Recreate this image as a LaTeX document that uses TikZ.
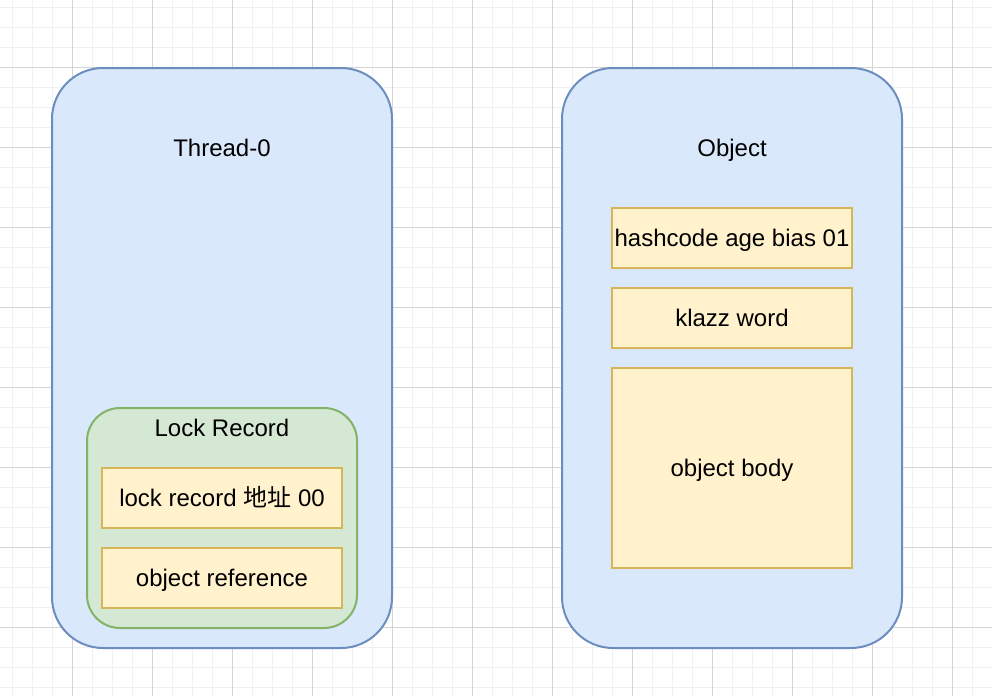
\documentclass[tikz,border=0pt]{standalone}
\usepackage{fontspec}
\setmainfont{Liberation Sans}
\newfontfamily\cjk{Noto Sans CJK SC}
\definecolor{blueFill}{HTML}{DAE8FC}
\definecolor{blueLine}{HTML}{6C8EBF}
\definecolor{greenFill}{HTML}{D5E8D4}
\definecolor{greenLine}{HTML}{82B366}
\definecolor{yelFill}{HTML}{FFF2CC}
\definecolor{yelLine}{HTML}{D6B656}
\definecolor{gridMinor}{HTML}{F0F0F0}
\definecolor{gridMajor}{HTML}{D4D4D4}
\tikzset{
  container/.style={draw=blueLine, fill=blueFill, line width=2pt, rounded corners=51pt},
  lockbox/.style={draw=greenLine, fill=greenFill, line width=2pt, rounded corners=33pt},
  field/.style={draw=yelLine, fill=yelFill, line width=2pt},
  lbl/.style={font=\fontsize{24}{28}\selectfont, text=black, inner sep=0pt, text height=17pt, text depth=1pt},
}
\begin{document}
\begin{tikzpicture}[x=1pt,y=-1pt]
\useasboundingbox (0,0) rectangle (992,696);
\fill[white] (0,0) rectangle (992,696);
% minor grid
\foreach \x in {12,32,...,992} \draw[gridMinor, line width=1pt] (\x,0) -- (\x,696);
\foreach \y in {7,27,...,696} \draw[gridMinor, line width=1pt] (0,\y) -- (992,\y);
% major grid
\foreach \x in {72,152,...,992} \draw[gridMajor, line width=1pt] (\x,0) -- (\x,696);
\foreach \y in {67,147,...,696} \draw[gridMajor, line width=1pt] (0,\y) -- (992,\y);

% containers
\draw[container] (52,68) rectangle (392,648);
\node[lbl] (thread) at (222,148) {Thread-0};
\draw[container] (562,68) rectangle (902,648);
\node[lbl] (object) at (732,148) {Object};

% lock record
\draw[lockbox] (87,408) rectangle (357,628);
\node[lbl] (lockrec) at (222,428) {Lock Record};
\draw[field] (102,468) rectangle (342,528);
\node[lbl] (lra) at (222,498) {lock record {\cjk 地址} 00};
\draw[field] (102,548) rectangle (342,608);
\node[lbl] (objref) at (222,578) {object reference};

% object fields
\draw[field] (612,208) rectangle (852,268);
\node[lbl] (hash) at (732,238) {hashcode age bias 01};
\draw[field] (612,288) rectangle (852,348);
\node[lbl] (klazz) at (732,318) {klazz word};
\draw[field] (612,368) rectangle (852,568);
\node[lbl] (body) at (732,468) {object body};
\end{tikzpicture}
\end{document}
